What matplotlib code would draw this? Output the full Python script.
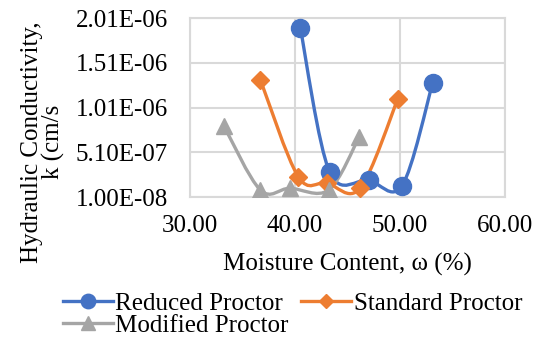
import numpy as np
import matplotlib
matplotlib.use("Agg")
import matplotlib.pyplot as plt
from matplotlib.path import Path
from matplotlib.patches import PathPatch
from matplotlib.lines import Line2D
from matplotlib.ticker import FormatStrFormatter

plt.rcParams['font.family'] = ['Liberation Serif', 'DejaVu Serif']

# Moisture content (%) and hydraulic conductivity k (cm/s)
reduced_w = [40.5, 43.3, 47.0, 50.2, 53.1]
reduced_k = [1.90e-06, 2.9e-07, 2.0e-07, 1.4e-07, 1.28e-06]

standard_w = [36.7, 40.3, 43.0, 46.2, 49.8]
standard_k = [1.32e-06, 2.4e-07, 1.7e-07, 1.1e-07, 1.11e-06]

modified_w = [33.2, 36.7, 39.5, 43.2, 46.1]
modified_k = [8.1e-07, 9.0e-08, 1.1e-07, 9.0e-08, 6.8e-07]

blue = '#4472C4'
orange = '#ED7D31'
gray = '#A5A5A5'
grid_c = '#D9D9D9'
fs = 18


def smooth_path(xs, ys):
    # Excel-like smoothed line (Catmull-Rom as cubic Bezier)
    p = np.column_stack([xs, ys])
    n = len(p)
    verts = [p[0]]
    codes = [Path.MOVETO]
    for i in range(n - 1):
        p0 = p[i - 1] if i > 0 else p[i]
        p3 = p[i + 2] if i + 2 < n else p[i + 1]
        c1 = p[i] + (p[i + 1] - p0) / 6
        c2 = p[i + 1] - (p3 - p[i]) / 6
        verts += [c1, c2, p[i + 1]]
        codes += [Path.CURVE4] * 3
    return Path(verts, codes)


fig = plt.figure(figsize=(5.43, 3.40), dpi=100)
ax = fig.add_axes([0.35, 0.42, 0.58, 0.527])

series = [
    (reduced_w, reduced_k, blue, 'o', 13, 'Reduced Proctor'),
    (standard_w, standard_k, orange, 'D', 9, 'Standard Proctor'),
    (modified_w, modified_k, gray, '^', 12, 'Modified Proctor'),
]
handles = {}
for xs, ys, c, m, ms, lab in series:
    ax.add_patch(PathPatch(smooth_path(xs, ys), fc='none', ec=c, lw=2.4, zorder=3))
    ax.plot(xs, ys, ls='none', marker=m, ms=ms, color=c, zorder=4)
    handles[lab] = Line2D([], [], color=c, lw=2.4, marker=m, ms=ms * 0.8, label=lab)

ax.set_xlim(30, 60)
ax.set_ylim(1e-08, 2.01e-06)
ax.set_xticks([30, 40, 50, 60])
ax.set_yticks([1e-08, 5.1e-07, 1.01e-06, 1.51e-06, 2.01e-06])
ax.xaxis.set_major_formatter(FormatStrFormatter('%.2f'))
ax.yaxis.set_major_formatter(FormatStrFormatter('%.2E'))
ax.grid(True, color=grid_c, lw=1.5)
ax.set_axisbelow(True)
for s in ax.spines.values():
    s.set_color(grid_c)
    s.set_linewidth(1.5)
ax.tick_params(axis='y', length=0, labelsize=fs, pad=16)
ax.tick_params(axis='x', length=0, labelsize=fs, pad=13)

ax.set_xlabel('Moisture Content, ω (%)', fontsize=fs, labelpad=11)
fig.text(43 / 543, 1 - 142 / 340, 'Hydraulic Conductivity,\nk (cm/s',
         rotation=90, ha='center', va='center', fontsize=fs,
         linespacing=0.95, multialignment='center')

# row 1: Reduced, Standard; row 2: Modified (legend fills column-wise)
order = ['Reduced Proctor', 'Modified Proctor', 'Standard Proctor']
fig.legend(handles=[handles[k] for k in order], loc='lower left',
           bbox_to_anchor=(0.083, -0.043),
           ncol=2, frameon=False, fontsize=fs, handlelength=2.0,
           handletextpad=0.1, columnspacing=0.52, labelspacing=0.0,
           borderpad=0.2)

fig.savefig('out.png', dpi=100)
